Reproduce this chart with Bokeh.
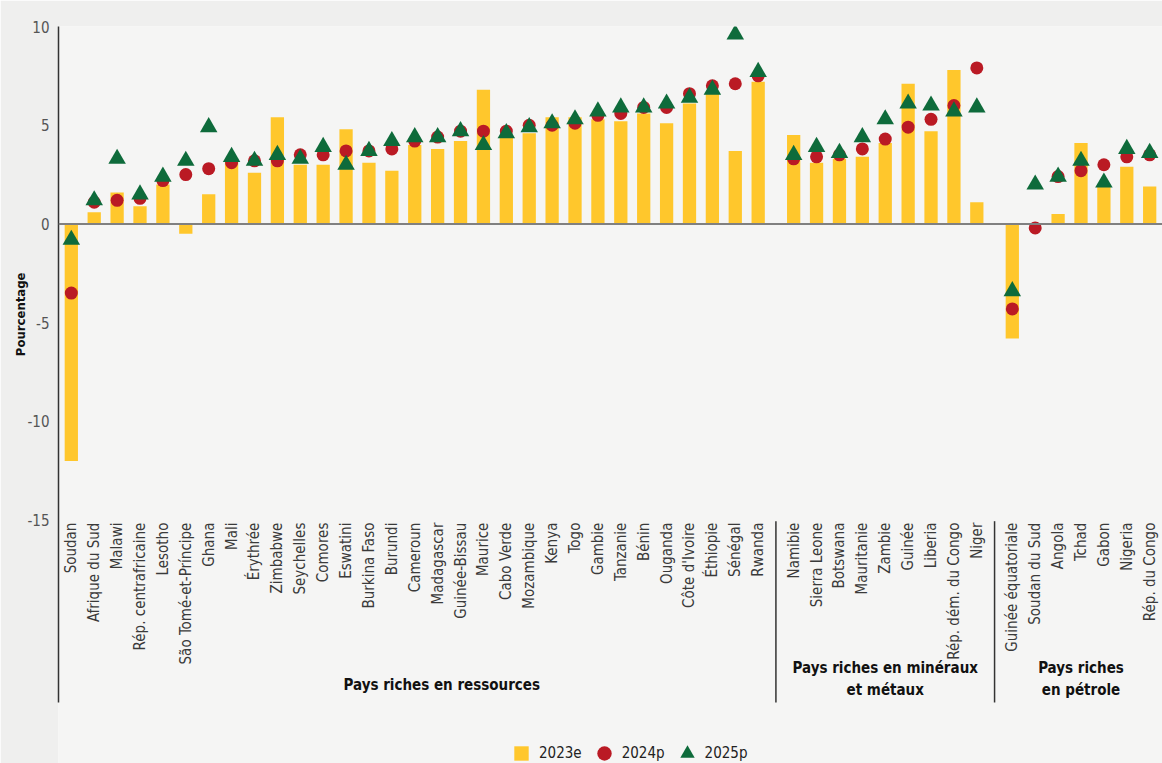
import math
from bokeh.plotting import figure
from bokeh.models import (FactorRange, Range1d, ColumnDataSource, FixedTicker, Span,
                          Title, Legend, LegendItem)
from bokeh.core.properties import value
from bokeh.embed import file_html
from bokeh.resources import INLINE

NAN = float("nan")

# ---------------- data ----------------
groups = ["Pays riches en ressources",
          "Pays riches en minéraux\net métaux",
          "Pays riches\nen pétrole"]

countries_resources = ["Soudan", "Afrique du Sud", "Malawi", "Rép. centrafricaine", "Lesotho",
                       "São Tomé-et-Príncipe", "Ghana", "Mali", "Érythrée", "Zimbabwe",
                       "Seychelles", "Comores", "Eswatini", "Burkina Faso", "Burundi",
                       "Cameroun", "Madagascar", "Guinée-Bissau", "Maurice", "Cabo Verde",
                       "Mozambique", "Kenya", "Togo", "Gambie", "Tanzanie", "Bénin",
                       "Ouganda", "Côte d'Ivoire", "Éthiopie", "Sénégal", "Rwanda"]
countries_minerals = ["Namibie", "Sierra Leone", "Botswana", "Mauritanie", "Zambie",
                      "Guinée", "Liberia", "Rép. dém. du Congo", "Niger"]
countries_oil = ["Guinée équatoriale", "Soudan du Sud", "Angola", "Tchad", "Gabon",
                 "Nigeria", "Rép. du Congo"]

growth_2023e = [-12.0, 0.6, 1.6, 0.9, 2.0, -0.5, 1.5, 3.2, 2.6, 5.4,
                3.0, 3.0, 4.8, 3.1, 2.7, 4.0, 3.8, 4.2, 6.8, 4.4,
                4.6, 5.4, 5.4, 5.3, 5.2, 5.6, 5.1, 6.1, 6.6, 3.7, 7.2,
                4.5, 3.1, 3.3, 3.4, 4.1, 7.1, 4.7, 7.8, 1.1,
                -5.8, NAN, 0.5, 4.1, 2.0, 2.9, 1.9]
growth_2024p = [-3.5, 1.1, 1.2, 1.3, 2.2, 2.5, 2.8, 3.1, 3.2, 3.2,
                3.5, 3.5, 3.7, 3.7, 3.8, 4.2, 4.4, 4.7, 4.7, 4.7,
                5.0, 5.0, 5.1, 5.5, 5.6, 5.9, 5.9, 6.6, 7.0, 7.1, 7.5,
                3.3, 3.4, 3.5, 3.8, 4.3, 4.9, 5.3, 6.0, 7.9,
                -4.3, -0.2, 2.4, 2.7, 3.0, 3.4, 3.5]
growth_2025p = [-0.8, 1.2, 3.3, 1.5, 2.4, 3.2, 4.9, 3.4, 3.2, 3.5,
                3.3, 3.9, 3.0, 3.7, 4.2, 4.4, 4.4, 4.7, 4.0, 4.6,
                4.9, 5.1, 5.3, 5.7, 5.9, 5.9, 6.1, 6.4, 6.8, 9.6, 7.7,
                3.5, 3.9, 3.6, 4.4, 5.3, 6.1, 6.0, 5.7, 5.9,
                -3.4, 2.0, 2.4, 3.2, 2.1, 3.8, 3.6]

series_labels = ["2023e", "2024p", "2025p"]
y_ticks = [-15, -10, -5, 0, 5, 10]
y_tick_labels = ["-15", "-10", "-5", "0", "5", "10"]
y_title = "Pourcentage"

# ---------------- style ----------------
FONT = "'Liberation Sans Narrow', 'DejaVu Sans Condensed', sans-serif"
YEL, RED, GRN = "#FFC72C", "#BA1A24", "#0E6B3B"
BG, BORDER = "#F5F5F4", "#EFEFEE"
GP = 0.55
Y_TOP, Y_BOTTOM = 10, -27.32
AXIS_END = -24.23
LABEL_Y = -15.12
GROUP_Y = -23.06
group_dx = [27, 0, 0]
group_dy = [6, 0, 0]

country_lists = [countries_resources, countries_minerals, countries_oil]
factors = [(g, c) for g, cl in zip(groups, country_lists) for c in cl]

src = ColumnDataSource(dict(x=factors, y23=growth_2023e, y24=growth_2024p, y25=growth_2025p,
                            name=[c for _, c in factors]))

p = figure(width=1162, height=763,
           x_range=FactorRange(*factors, group_padding=GP, factor_padding=0,
                               range_padding=0.06, range_padding_units="absolute"),
           y_range=Range1d(Y_BOTTOM, Y_TOP),
           x_axis_location=None,
           output_backend="svg", toolbar_location=None,
           min_border_left=58, min_border_right=0, min_border_top=26, min_border_bottom=0,
           background_fill_color=BG, border_fill_color=BORDER, outline_line_color=None)
p.xgrid.visible = False
p.ygrid.visible = False

yax = p.yaxis[0]
yax.ticker = FixedTicker(ticks=y_ticks)
yax.major_label_overrides = dict(zip(y_ticks, y_tick_labels))
yax.bounds = (AXIS_END, Y_TOP)
yax.major_tick_out = 0
yax.major_tick_in = 0
yax.minor_tick_out = 0
yax.minor_tick_in = 0
yax.major_tick_line_color = None
yax.minor_tick_line_color = None
yax.major_label_standoff = 9
yax.axis_line_color = "#333333"
yax.axis_line_width = 1.5
yax.major_label_text_font = FONT
yax.major_label_text_font_size = "15px"
yax.major_label_text_color = "#555555"

# y title, beside the axis, placed from the top of the frame
p.add_layout(Title(text=y_title, align="right", offset=246, standoff=-7,
                   text_font=FONT, text_font_style="bold", text_font_size="13px",
                   text_color="#111111"), "left")

bars = p.vbar(x="x", top="y23", width=0.58, source=src, fill_color=YEL, line_color=None)
dots = p.scatter(x="x", y="y24", source=src, marker="circle", size=13,
                 fill_color=RED, line_color=None)
tris = p.scatter(x="x", y="y25", source=src, marker="triangle", size=17.5,
                 fill_color=GRN, line_color=None)

p.add_layout(Span(location=0, dimension="width", line_color="#808080", line_width=2))

# country labels
p.text(x="x", y=LABEL_Y, text="name", source=src, angle=math.pi / 2,
       text_align="right", text_baseline="middle", text_font=value(FONT),
       text_font_size="15px", text_color="#3a3a3a")

# group labels
gsrc = ColumnDataSource(dict(x=groups, text=groups, dx=group_dx, dy=group_dy))
p.text(x="x", y=GROUP_Y, text="text", source=gsrc, x_offset="dx", y_offset="dy",
       text_align="center", text_baseline="middle", text_font=value(FONT),
       text_font_style="bold", text_font_size="15px", text_color="#111111",
       text_line_height=1.22)

# group separators
sep_x = [(g, cl[0], -(1 + GP) / 2) for g, cl in zip(groups[1:], country_lists[1:])]
ssrc = ColumnDataSource(dict(x=sep_x))
p.segment(x0="x", x1="x", y0=-15.05, y1=AXIS_END, source=ssrc,
          line_color="#333333", line_width=1.5)

# legend (square proxy for the bars)
sq = p.scatter(x=[factors[0]], y=[NAN], marker="square", fill_color=YEL, line_color=None)
legend = Legend(items=[LegendItem(label=series_labels[0], renderers=[sq]),
                       LegendItem(label=series_labels[1], renderers=[dots]),
                       LegendItem(label=series_labels[2], renderers=[tris])],
                orientation="horizontal", location=(445, -10),
                glyph_width=36, glyph_height=40, label_standoff=0, spacing=4,
                padding=0, margin=0, border_line_color=None, background_fill_alpha=0,
                label_text_font=FONT, label_text_font_size="15px", label_text_color="#222222")
p.add_layout(legend)

open("out.html", "w").write(file_html(p, INLINE))
